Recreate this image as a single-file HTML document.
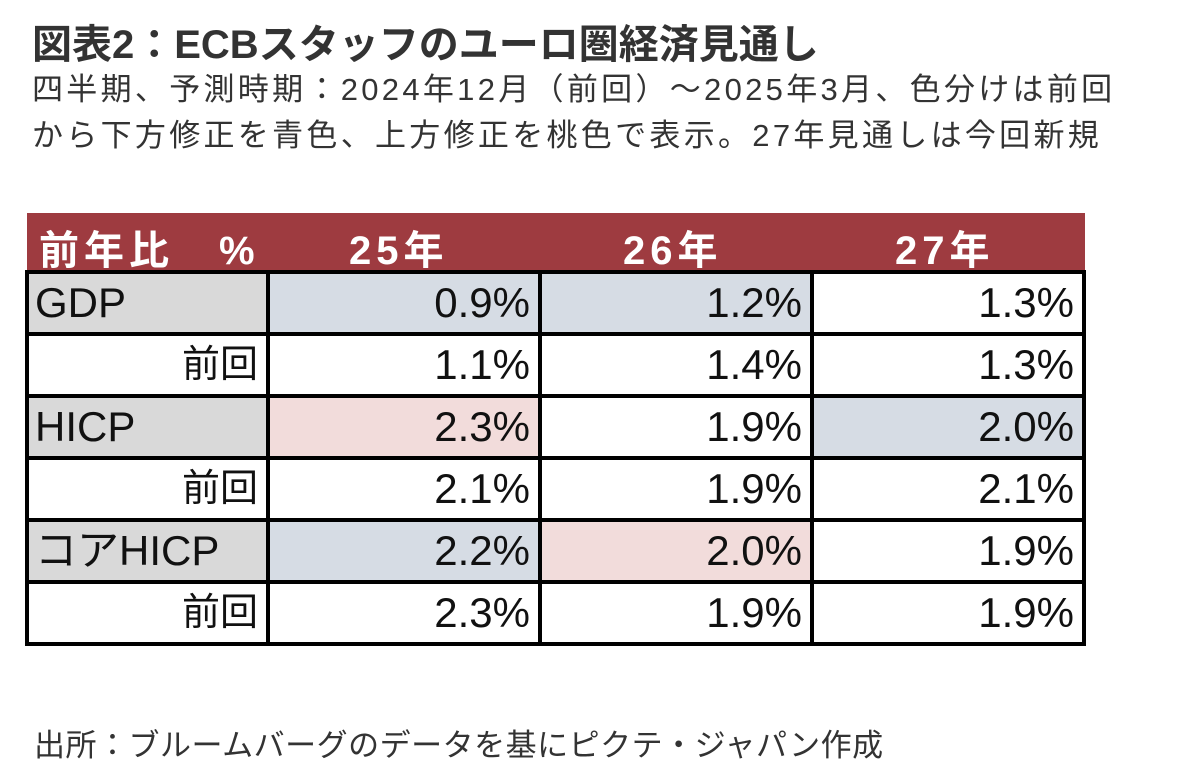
<!DOCTYPE html>
<html><head><meta charset="utf-8">
<style>
body{margin:0;width:1182px;height:762px;background:#fff;overflow:hidden;font-family:"Liberation Sans","Noto Sans CJK JP",sans-serif;color:#222;position:relative}
.t{position:absolute;left:32px;white-space:nowrap}
#title{top:12px;font-size:40px;font-weight:bold;color:#333}
.sub{font-size:31px;color:#333;letter-spacing:3.3px}
#hdr{position:absolute;left:27px;top:213px;width:1058px;height:58px;background:#9e3b40;color:#fff}
#hdr div{position:absolute;top:5px;font-size:40px;letter-spacing:5px;font-weight:bold}
table{position:absolute;left:25px;top:270px;border-collapse:collapse;table-layout:fixed}
td{border:4px solid #000;height:58px;padding:0 8px;font-family:"Liberation Sans Narrow","Liberation Sans","Noto Sans CJK JP",sans-serif;font-size:42px;text-align:right;color:#111;line-height:58px}
td.l{text-align:left;background:#d9d9d9;padding-left:6px}
td.r{font-family:"Liberation Sans","Noto Sans CJK JP",sans-serif;font-size:38px}
.b{background:#d6dce4}.p{background:#f2dcdb}
</style></head><body>
<div id="title" class="t">図表2：ECBスタッフのユーロ圏経済見通し</div>
<div class="t sub" style="top:64px">四半期、予測時期：2024年12月（前回）～2025年3月、色分けは前回</div>
<div class="t sub" style="top:110px">から下方修正を青色、上方修正を桃色で表示。27年見通しは今回新規</div>
<div id="hdr">
<div style="left:12px">前年比　%</div>
<div style="left:322px">25年</div>
<div style="left:596px">26年</div>
<div style="left:868px">27年</div>
</div>
<table>
<colgroup><col style="width:241px"><col style="width:272px"><col style="width:272px"><col style="width:272px"></colgroup>
<tr><td class="l">GDP</td><td class="b">0.9%</td><td class="b">1.2%</td><td>1.3%</td></tr>
<tr><td class="r">前回</td><td>1.1%</td><td>1.4%</td><td>1.3%</td></tr>
<tr><td class="l">HICP</td><td class="p">2.3%</td><td>1.9%</td><td class="b">2.0%</td></tr>
<tr><td class="r">前回</td><td>2.1%</td><td>1.9%</td><td>2.1%</td></tr>
<tr><td class="l">コアHICP</td><td class="b">2.2%</td><td class="p">2.0%</td><td>1.9%</td></tr>
<tr><td class="r">前回</td><td>2.3%</td><td>1.9%</td><td>1.9%</td></tr>
</table>
<div class="t sub" style="top:720px;left:34px;letter-spacing:0.5px">出所：ブルームバーグのデータを基にピクテ・ジャパン作成</div>
</body></html>
